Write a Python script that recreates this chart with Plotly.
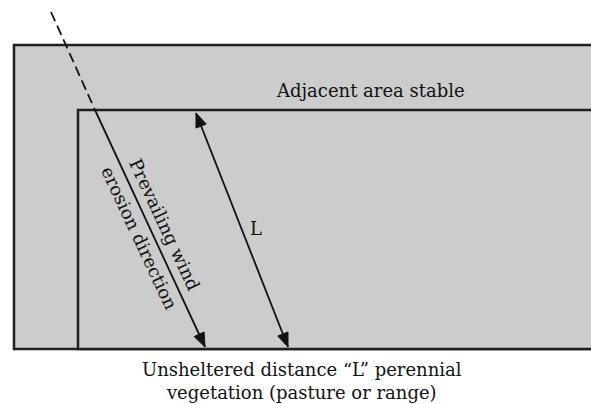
import numpy as np
import plotly.graph_objects as go

W, H = 591, 404

# Diagram geometry (in pixel-like diagram units, y downward)
outer_rect = dict(x0=14, y0=45, x1=600, y1=349)
inner_rect = dict(x0=78, y0=110, x1=600, y1=349)

wind_dash_x = [51, 95]
wind_dash_y = [12, 110]
wind_solid_x = [95, 205]
wind_solid_y = [110, 347]

L_arrow_x = [196, 288]
L_arrow_y = [113, 347]

labels = ["Adjacent area stable", "L", "Prevailing wind", "erosion direction",
          "Unsheltered distance \u201cL\u201d perennial<br>vegetation (pasture or range)"]
label_x = [370, 256, 165, 140, 302]
label_y = [90, 228, 224, 238, 381]
label_angle = [0, 0, 65, 65, 0]

FONT = "DejaVu Serif"
INK = "#111111"

fig = go.Figure()

for r in (outer_rect, inner_rect):
    fig.add_shape(type="rect", xref="x", yref="y", **r,
                  fillcolor="#cccccc", line=dict(color="#1f1f1f", width=2.5), layer="below")

fig.add_trace(go.Scatter(x=wind_dash_x, y=wind_dash_y, mode="lines",
                         line=dict(color=INK, width=1.8, dash="10px,5px"), hoverinfo="skip"))
fig.add_trace(go.Scatter(x=wind_solid_x, y=wind_solid_y, mode="lines",
                         line=dict(color=INK, width=1.8), hoverinfo="skip"))
fig.add_trace(go.Scatter(x=L_arrow_x, y=L_arrow_y, mode="lines",
                         line=dict(color=INK, width=1.8), hoverinfo="skip"))


def head(tip, tail, length=14, half=5.5):
    tip = np.array(tip, float)
    tail = np.array(tail, float)
    d = tip - tail
    d /= np.linalg.norm(d)
    n = np.array([-d[1], d[0]])
    base = tip - d * length
    p1 = base + n * half
    p2 = base - n * half
    xs = [tip[0], p1[0], p2[0], tip[0]]
    ys = [tip[1], p1[1], p2[1], tip[1]]
    fig.add_trace(go.Scatter(x=xs, y=ys, mode="lines", fill="toself", fillcolor=INK,
                             line=dict(color=INK, width=1), hoverinfo="skip"))


head((wind_solid_x[1], wind_solid_y[1]), (wind_solid_x[0], wind_solid_y[0]))
head((L_arrow_x[1], L_arrow_y[1]), (L_arrow_x[0], L_arrow_y[0]))
head((L_arrow_x[0], L_arrow_y[0]), (L_arrow_x[1], L_arrow_y[1]))

for t, x, y, a in zip(labels, label_x, label_y, label_angle):
    fig.add_annotation(x=x, y=y, text=t, showarrow=False, textangle=a,
                       xanchor="center", yanchor="middle",
                       font=dict(family=FONT, size=18, color=INK))

fig.update_layout(width=W, height=H, margin=dict(l=0, r=0, t=0, b=0),
                  paper_bgcolor="white", plot_bgcolor="white", showlegend=False,
                  xaxis=dict(range=[0, W], visible=False, fixedrange=True),
                  yaxis=dict(range=[H, 0], visible=False, fixedrange=True))

fig.write_html("out.html", config={"displayModeBar": False},
               post_script="document.body.style.margin='0';document.body.style.overflow='hidden';")
